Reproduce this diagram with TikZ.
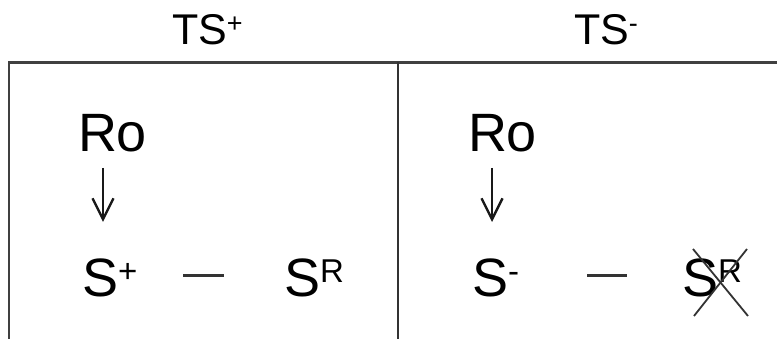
\documentclass[tikz,border=0pt]{standalone}
\usepackage{fontspec}
\setmainfont{Liberation Sans}
\usetikzlibrary{arrows.meta}
\newcommand{\bigf}{\fontsize{54}{60}\selectfont}
\newcommand{\supf}{\fontsize{33}{36}\selectfont}
\newcommand{\hdf}{\fontsize{43}{48}\selectfont}
\newcommand{\hdsupf}{\fontsize{27}{30}\selectfont}
\newcommand{\bsup}[1]{\raisebox{14pt}{\supf #1}}
\newcommand{\hsup}[1]{\raisebox{12pt}{\hdsupf #1}}
\begin{document}
\begin{tikzpicture}[x=1pt,y=1pt,
  lbl/.style={anchor=base west,inner sep=0pt,outer sep=0pt,text=black},
  frame/.style={line width=2.6pt,draw=black!75},
  divider/.style={line width=2.4pt,draw=black!80},
  arr/.style={line width=1.8pt,draw=black!90,-{Straight Barb[length=21pt,width=21pt,line width=2.4pt]}},
  bond/.style={line width=3pt,draw=black!80},
  cross/.style={line width=1.8pt,draw=black!80}]
\useasboundingbox (0,0) rectangle (777,339);
% frame
\draw[frame,line join=miter] (9,0) -- (9,276.7) -- (777,276.7);
\draw[divider] (398,276.7) -- (398,0);
% headings
\node[lbl] (ts1) at (172,294) {\hdf TS\hsup{+}};
\node[lbl] (ts2) at (574,294) {\hdf TS\hsup{-}};
% left panel
\node[lbl] (ro1) at (78,187) {\bigf Ro};
\node[lbl] (sp) at (82,42) {\bigf S\bsup{+}};
\node[lbl] (sr1) at (284,42) {\bigf S\bsup{R}};
\draw[arr] ([shift={(25pt,-16pt)}]ro1.base west) -- ([shift={(21pt,75pt)}]sp.base west);
\draw[bond] ([shift={(101pt,21pt)}]sp.base west) -- ([shift={(-60pt,21pt)}]sr1.base west);
% right panel
\node[lbl] (ro2) at (468,187) {\bigf Ro};
\node[lbl] (sm) at (472,42) {\bigf S\bsup{-}};
\node[lbl] (sr2) at (682,42) {\bigf S\bsup{R}};
\draw[arr] ([shift={(24pt,-16pt)}]ro2.base west) -- ([shift={(20pt,75pt)}]sm.base west);
\draw[bond] ([shift={(115pt,21pt)}]sm.base west) -- ([shift={(-55pt,21pt)}]sr2.base west);
% cross over S^R
\coordinate (xa) at ([shift={(11pt,48pt)}]sr2.base west);
\coordinate (xb) at ([shift={(66pt,-19pt)}]sr2.base west);
\coordinate (xc) at ([shift={(65pt,48pt)}]sr2.base west);
\coordinate (xd) at ([shift={(12pt,-19pt)}]sr2.base west);
\draw[cross] (xa) -- (xb);
\draw[cross] (xc) -- (xd);
\end{tikzpicture}
\end{document}
